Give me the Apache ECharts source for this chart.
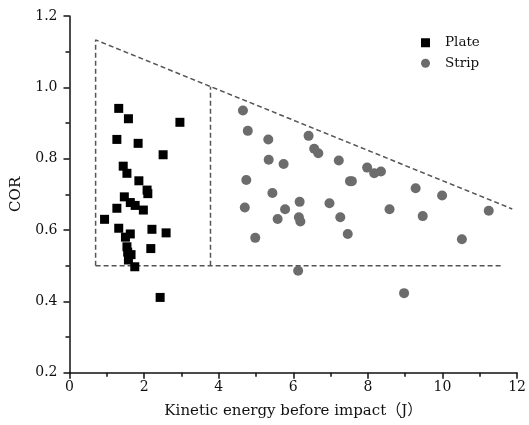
<!DOCTYPE html>
<html>
<head>
<meta charset="utf-8">
<script src="https://cdn.jsdelivr.net/npm/echarts@6/dist/echarts.min.js"></script>
<style>html,body{margin:0;padding:0;background:#fff}#c{width:529px;height:425px}</style>
</head>
<body>
<div id="c"></div>
<script>
// Plate: [kinetic energy (J), COR]
var plateData = [
  [1.32,0.941],[1.58,0.912],[2.96,0.902],[1.27,0.854],[1.84,0.843],[2.51,0.811],
  [1.44,0.779],[1.54,0.759],[1.86,0.738],[2.08,0.712],[2.10,0.702],[1.47,0.693],
  [1.63,0.677],[1.76,0.669],[1.98,0.656],[1.27,0.661],[0.94,0.630],[1.32,0.605],
  [2.21,0.602],[2.59,0.592],[1.63,0.589],[1.50,0.580],[1.54,0.553],[2.18,0.548],
  [1.56,0.538],[1.65,0.531],[1.58,0.516],[1.75,0.497],[2.43,0.411]
];
// Strip: [kinetic energy (J), COR]
var stripData = [
  [4.65,0.935],[4.78,0.878],[5.33,0.854],[6.41,0.864],[6.56,0.828],[6.67,0.815],
  [7.22,0.795],[5.34,0.797],[5.74,0.785],[7.98,0.775],[8.17,0.759],[8.35,0.764],
  [4.74,0.740],[7.52,0.737],[7.57,0.737],[5.44,0.704],[6.17,0.679],[6.97,0.675],
  [4.70,0.663],[5.78,0.658],[5.58,0.631],[6.15,0.636],[6.19,0.624],[7.26,0.636],
  [7.46,0.589],[4.98,0.578],[6.13,0.486],[9.28,0.717],[9.99,0.697],[8.58,0.658],
  [9.47,0.639],[11.24,0.654],[10.52,0.574],[8.97,0.423]
];
// Boundary (dashed) lines
var outerBoundary = [[0.70,0.50],[0.70,1.133],[11.87,0.659]];
var innerBoundary = [[3.78,0.50],[3.78,1.002]];
var floorBoundary = [[0.70,0.50],[11.61,0.50]];

var xTicks = {min:0, max:12, interval:2};
var yTicks = {min:0.2, max:1.2, interval:0.2};

var font = '"DejaVu Serif", "Liberation Serif", "Noto Sans CJK SC", serif';
var dashStyle = {color:'#555', width:1.5, type:[5,3]};

var chart = echarts.init(document.getElementById('c'));
chart.setOption({
  animation:false,
  backgroundColor:'#fff',
  grid:{left:69.5, right:8.5, top:16, bottom:52.3},
  legend:{
    orient:'vertical', left:416, top:31, itemWidth:9, itemHeight:9, itemGap:7,
    textStyle:{fontFamily:font, fontSize:13.5, color:'#111', padding:[0,0,0,10]},
    data:[{name:'Plate', icon:'rect'},{name:'Strip', icon:'circle'}]
  },
  xAxis:{
    type:'value', min:xTicks.min, max:xTicks.max, interval:xTicks.interval,
    name:'Kinetic energy before impact（J）', nameLocation:'middle', nameGap:31,
    nameTextStyle:{fontFamily:font, fontSize:15, color:'#111'},
    axisLine:{lineStyle:{color:'#111', width:1.5}},
    axisTick:{show:true, inside:false, length:6, lineStyle:{color:'#111', width:1.5}},
    minorTick:{show:true, splitNumber:2, length:4, lineStyle:{color:'#111', width:1.5}},
    axisLabel:{fontFamily:font, fontSize:14, color:'#111', margin:8},
    splitLine:{show:false}
  },
  yAxis:{
    type:'value', min:yTicks.min, max:yTicks.max, interval:yTicks.interval,
    name:'COR', nameLocation:'middle', nameGap:46,
    nameTextStyle:{fontFamily:font, fontSize:15, color:'#111'},
    axisLine:{show:true, lineStyle:{color:'#111', width:1.5}},
    axisTick:{show:true, inside:false, length:6, lineStyle:{color:'#111', width:1.5}},
    minorTick:{show:true, splitNumber:2, length:4, lineStyle:{color:'#111', width:1.5}},
    axisLabel:{fontFamily:font, fontSize:14, color:'#111', margin:12,
      formatter:function(v){return v.toFixed(1);}},
    splitLine:{show:false}
  },
  series:[
    {type:'line', data:outerBoundary, symbol:'none', lineStyle:dashStyle, silent:true, z:1},
    {type:'line', data:innerBoundary, symbol:'none', lineStyle:dashStyle, silent:true, z:1},
    {type:'line', data:floorBoundary, symbol:'none', lineStyle:dashStyle, silent:true, z:1},
    {name:'Plate', type:'scatter', symbol:'rect', symbolSize:9, data:plateData,
      itemStyle:{color:'#000', opacity:1}, z:3},
    {name:'Strip', type:'scatter', symbol:'circle', symbolSize:10, data:stripData,
      itemStyle:{color:'#6c6c6c', opacity:1}, z:3}
  ]
});
</script>
</body>
</html>
